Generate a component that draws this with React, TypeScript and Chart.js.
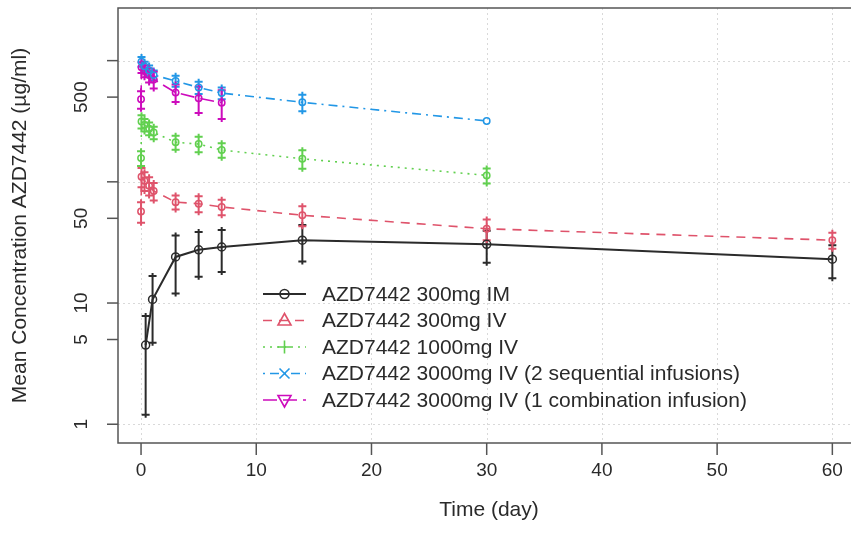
import React, { useEffect, useRef } from 'react';
import { Chart, registerables } from 'chart.js';
Chart.register(...registerables);

// ---- data ----
const xTickValues = [0, 10, 20, 30, 40, 50, 60];
const yTickValues = [1, 5, 10, 50, 100, 500, 1000];
const yTickLabels = ['1', '5', '10', '50', '', '500', ''];
const yGridValues = [1, 10, 100, 1000];

const seriesNames = [
  'AZD7442 300mg IM',
  'AZD7442 300mg IV',
  'AZD7442 1000mg IV',
  'AZD7442 3000mg IV (2 sequential infusions)',
  'AZD7442 3000mg IV (1 combination infusion)',
];

const im300Days = [0.4, 1, 3, 5, 7, 14, 30, 60];
const im300Mean = [4.5, 10.7, 24, 27.5, 29, 33, 30.5, 23];
const im300Sd = [3.3, 6, 12, 11, 11, 11, 9, 7];

const iv300Days = [0, 0.04, 0.3, 0.7, 1.1, 3, 5, 7, 14, 30, 60];
const iv300Mean = [57, 110, 102, 93, 84, 68, 66, 62, 53, 41, 33];
const iv300Sd = [11, 20, 18, 16, 14, 9, 10, 9, 10, 8, 5];

const iv1000Days = [0, 0.04, 0.3, 0.7, 1.1, 3, 5, 7, 14, 30];
const iv1000Mean = [157, 315, 295, 275, 255, 212, 205, 183, 155, 113];
const iv1000Sd = [22, 40, 35, 33, 30, 28, 30, 25, 27, 16];

const iv3000sDays = [0.04, 0.3, 0.7, 1.1, 3, 5, 7, 14, 30];
const iv3000sMean = [980, 900, 830, 760, 680, 600, 540, 453, 318];
const iv3000sSd = [90, 80, 80, 70, 70, 70, 60, 70, 0];

const iv3000cDays = [0, 0.04, 0.3, 0.7, 1.1, 3, 5, 7];
const iv3000cMean = [480, 880, 820, 760, 700, 545, 490, 450];
const iv3000cSd = [80, 90, 90, 100, 110, 90, 120, 120];

// ---- styles ----
const seriesColors = ['#2b2b2b', '#DF536B', '#61D04F', '#2297E6', '#CD0BBC'];
const seriesDash = [[], [9, 7], [2, 5], [2, 5, 9, 5], [14, 6]];
const seriesWidth = [2, 1.6, 1.6, 1.6, 1.6];
const seriesPointRadius = [4, 3.2, 3.2, 3.2, 3.2];
const seriesMarker = ['circle', 'triUp', 'plus', 'cross', 'triDown'];

const FONT = '21px "Liberation Sans", Arial, sans-serif';
const TICK_FONT = '19px "Liberation Sans", Arial, sans-serif';
const TEXT = '#2a2a2a';
const AXIS = '#555555';
const GRID = '#d9d9d9';

const seriesData = [
  { days: im300Days, mean: im300Mean, sd: im300Sd },
  { days: iv300Days, mean: iv300Mean, sd: iv300Sd },
  { days: iv1000Days, mean: iv1000Mean, sd: iv1000Sd },
  { days: iv3000sDays, mean: iv3000sMean, sd: iv3000sSd },
  { days: iv3000cDays, mean: iv3000cMean, sd: iv3000cSd },
];

function drawMarker(ctx: CanvasRenderingContext2D, kind: string, cx: number, cy: number, color: string) {
  ctx.save();
  ctx.strokeStyle = color;
  ctx.lineWidth = 1.6;
  ctx.setLineDash([]);
  ctx.beginPath();
  if (kind === 'circle') {
    ctx.arc(cx, cy, 4.5, 0, Math.PI * 2);
  } else if (kind === 'triUp') {
    ctx.moveTo(cx, cy - 7);
    ctx.lineTo(cx + 6.5, cy + 4.5);
    ctx.lineTo(cx - 6.5, cy + 4.5);
    ctx.closePath();
  } else if (kind === 'triDown') {
    ctx.moveTo(cx, cy + 7);
    ctx.lineTo(cx + 6.5, cy - 4.5);
    ctx.lineTo(cx - 6.5, cy - 4.5);
    ctx.closePath();
  } else if (kind === 'plus') {
    ctx.moveTo(cx - 6.5, cy);
    ctx.lineTo(cx + 6.5, cy);
    ctx.moveTo(cx, cy - 6.5);
    ctx.lineTo(cx, cy + 6.5);
  } else if (kind === 'cross') {
    ctx.moveTo(cx - 5, cy - 5);
    ctx.lineTo(cx + 5, cy + 5);
    ctx.moveTo(cx + 5, cy - 5);
    ctx.lineTo(cx - 5, cy + 5);
  }
  ctx.stroke();
  ctx.restore();
}

const customPlugin = {
  id: 'customDecor',
  beforeDatasetsDraw(chart: any) {
    const { ctx, chartArea: a, scales } = chart;
    const xs = scales.x;
    const ys = scales.y;
    // dotted grid
    ctx.save();
    ctx.strokeStyle = GRID;
    ctx.lineWidth = 1;
    ctx.setLineDash([2, 3]);
    xTickValues.forEach((v) => {
      const px = Math.round(xs.getPixelForValue(v)) + 0.5;
      ctx.beginPath();
      ctx.moveTo(px, a.top);
      ctx.lineTo(px, a.bottom);
      ctx.stroke();
    });
    yGridValues.forEach((v) => {
      const py = Math.round(ys.getPixelForValue(v)) + 0.5;
      ctx.beginPath();
      ctx.moveTo(a.left, py);
      ctx.lineTo(a.right, py);
      ctx.stroke();
    });
    ctx.restore();
    // error bars
    seriesData.forEach((s, k) => {
      ctx.save();
      ctx.strokeStyle = seriesColors[k];
      ctx.lineWidth = 2;
      ctx.setLineDash([]);
      s.days.forEach((d, i) => {
        const sd = s.sd[i];
        if (!sd) return;
        const px = xs.getPixelForValue(d);
        const top = ys.getPixelForValue(s.mean[i] + sd);
        const bot = ys.getPixelForValue(Math.max(s.mean[i] - sd, 0.8));
        ctx.beginPath();
        ctx.moveTo(px, top - 3);
        ctx.lineTo(px, bot + 3);
        ctx.moveTo(px - 4, top);
        ctx.lineTo(px + 4, top);
        ctx.moveTo(px - 4, bot);
        ctx.lineTo(px + 4, bot);
        ctx.stroke();
      });
      ctx.restore();
    });
  },
  afterDraw(chart: any) {
    const { ctx, chartArea: a, scales } = chart;
    const xs = scales.x;
    const ys = scales.y;
    ctx.save();
    // box (its right side lies beyond the picture)
    ctx.strokeStyle = AXIS;
    ctx.lineWidth = 1.5;
    ctx.setLineDash([]);
    ctx.beginPath();
    ctx.moveTo(a.right, a.top);
    ctx.lineTo(a.left, a.top);
    ctx.lineTo(a.left, a.bottom);
    ctx.lineTo(a.right, a.bottom);
    ctx.stroke();

    ctx.font = TICK_FONT;
    ctx.fillStyle = TEXT;
    // x ticks
    ctx.textAlign = 'center';
    ctx.textBaseline = 'middle';
    xTickValues.forEach((v) => {
      const px = xs.getPixelForValue(v);
      ctx.beginPath();
      ctx.moveTo(px, a.bottom);
      ctx.lineTo(px, a.bottom + 12);
      ctx.stroke();
      ctx.fillText(String(v), px, a.bottom + 28);
    });
    // y ticks
    yTickValues.forEach((v, i) => {
      const py = ys.getPixelForValue(v);
      ctx.beginPath();
      ctx.moveTo(a.left, py);
      ctx.lineTo(a.left - 11, py);
      ctx.stroke();
      const lab = yTickLabels[i];
      if (lab) {
        ctx.save();
        ctx.translate(a.left - 36, py);
        ctx.rotate(-Math.PI / 2);
        ctx.fillText(lab, 0, 0);
        ctx.restore();
      }
    });
    // axis titles
    ctx.font = FONT;
    ctx.fillText('Time (day)', 489, a.bottom + 67);
    ctx.save();
    ctx.translate(20, (a.top + a.bottom) / 2);
    ctx.rotate(-Math.PI / 2);
    ctx.fillText('Mean Concentration AZD7442 (\u00b5g/ml)', 0, 0);
    ctx.restore();

    // legend
    const rowY0 = 294;
    const rowStep = 26.5;
    seriesNames.forEach((name, k) => {
      const yy = rowY0 + k * rowStep;
      ctx.save();
      ctx.strokeStyle = seriesColors[k];
      ctx.lineWidth = seriesWidth[k];
      ctx.setLineDash(seriesDash[k]);
      ctx.beginPath();
      ctx.moveTo(263, yy);
      ctx.lineTo(306, yy);
      ctx.stroke();
      ctx.restore();
      drawMarker(ctx, seriesMarker[k], 284.5, yy, seriesColors[k]);
      ctx.textAlign = 'left';
      ctx.textBaseline = 'middle';
      ctx.fillStyle = TEXT;
      ctx.fillText(name, 322, yy + 1);
    });
    ctx.restore();
  },
};

export default function App() {
  const ref = useRef<HTMLCanvasElement | null>(null);
  useEffect(() => {
    if (!ref.current) return;
    const datasets = seriesData.map((s, k) => ({
      label: seriesNames[k],
      data: s.days.map((d, i) => ({ x: d, y: s.mean[i] })),
      showLine: true,
      borderColor: seriesColors[k],
      borderWidth: seriesWidth[k],
      borderDash: seriesDash[k],
      pointRadius: seriesPointRadius[k],
      pointBorderWidth: 1.5,
      pointBorderColor: seriesColors[k],
      pointBackgroundColor: 'rgba(0,0,0,0)',
      pointStyle: 'circle',
      tension: 0,
    }));
    const chart = new Chart(ref.current, {
      type: 'scatter',
      data: { datasets },
      plugins: [customPlugin],
      options: {
        animation: false,
        responsive: false,
        events: [],
        layout: { padding: { left: 118, top: 8, right: 10, bottom: 106 } },
        plugins: { legend: { display: false }, tooltip: { enabled: false } },
        scales: {
          x: { type: 'linear', min: -2, max: 62.4, display: false },
          y: { type: 'logarithmic', min: 0.739, max: 2718, display: false },
        },
      },
    } as any);
    return () => chart.destroy();
  }, []);
  return (
    <div style={{ position: 'fixed', left: 0, top: 0, width: 851, height: 549, overflow: 'hidden', background: '#fff' }}>
      <canvas ref={ref} width={870} height={549} style={{ width: 870, height: 549, display: 'block' }} />
    </div>
  );
}
